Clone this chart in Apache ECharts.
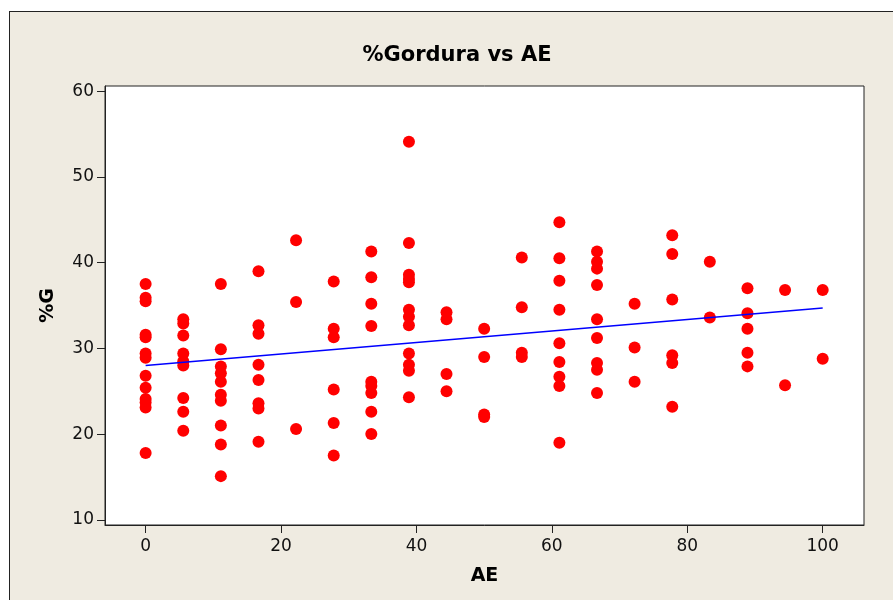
<!DOCTYPE html>
<html>
<head>
<meta charset="utf-8">
<title>%Gordura vs AE</title>
<script src="https://cdn.jsdelivr.net/npm/echarts@6/dist/echarts.min.js"></script>
<style>
  html, body { margin: 0; padding: 0; background: #fff; }
  #wrap { position: relative; width: 893px; height: 600px; overflow: hidden; }
  #panel {
    position: absolute; left: 9px; top: 11px; right: 0; bottom: 0;
    background: #efebe1; border-top: 1px solid #222; border-left: 1px solid #222;
  }
  #chart { position: absolute; left: 0; top: 0; width: 893px; height: 600px; }
</style>
</head>
<body>
<div id="wrap">
  <div id="panel"></div>
  <div id="chart"></div>
</div>
<script>
// niveles de AE (eje x)
const aeLevels = [0, 5.56, 11.11, 16.67, 22.22, 27.78, 33.33, 38.89, 44.44, 50,
  55.56, 61.11, 66.67, 72.22, 77.78, 83.33, 88.89, 94.44, 100];

// %G observado en cada nivel de AE
const gorduraPorNivel = [
  [37.5, 35.9, 35.5, 31.6, 31.3, 29.4, 28.9, 26.8, 25.4, 24.1, 23.7, 23.1, 17.8],
  [33.4, 32.9, 31.5, 29.4, 28.5, 28.0, 24.2, 22.6, 20.4],
  [37.5, 29.9, 27.9, 27.1, 26.1, 24.6, 23.9, 21.0, 18.8, 15.1],
  [39.0, 32.7, 31.7, 28.1, 26.3, 23.6, 23.0, 19.1],
  [42.6, 35.4, 20.6],
  [37.8, 32.3, 31.3, 25.2, 21.3, 17.5],
  [41.3, 38.3, 35.2, 32.6, 26.1, 25.6, 24.8, 22.6, 20.0],
  [54.1, 42.3, 38.6, 38.1, 37.7, 34.5, 33.7, 32.7, 29.4, 28.1, 27.4, 24.3],
  [34.2, 33.4, 27.0, 25.0],
  [32.3, 29.0, 22.3, 22.0],
  [40.6, 34.8, 29.5, 29.0],
  [44.7, 40.5, 37.9, 34.5, 30.6, 28.4, 26.7, 25.6, 19.0],
  [41.3, 40.1, 39.3, 37.4, 33.4, 31.2, 28.3, 27.5, 24.8],
  [35.2, 30.1, 26.1],
  [43.2, 41.0, 35.7, 29.2, 28.3, 23.2],
  [40.1, 33.6],
  [37.0, 34.1, 32.3, 29.5, 27.9],
  [36.8, 25.7],
  [36.8, 28.8],
];

// recta de regresión (extremos)
const fitAE = [0, 100];
const fitG = [28.0, 34.7];

const xTicks = [0, 20, 40, 60, 80, 100];
const yTicks = [10, 20, 30, 40, 50, 60];

const points = [];
aeLevels.forEach((ae, i) => {
  gorduraPorNivel[i].forEach((g) => points.push([ae, g]));
});

const chart = echarts.init(document.getElementById("chart"), null, { renderer: "canvas" });

const axisFont = { fontFamily: "DejaVu Sans", fontSize: 17, color: "#111" };

chart.setOption({
  backgroundColor: "transparent",
  animation: false,
  title: {
    text: "%Gordura vs AE",
    left: 457,
    top: 45,
    padding: 0,
    textAlign: "center",
    textStyle: { fontFamily: "DejaVu Sans", fontWeight: "bold", fontSize: 21, color: "#000" },
  },
  grid: {
    left: 105, top: 86, width: 759, height: 439,
    show: true, backgroundColor: "#fff", borderColor: "#222", borderWidth: 1,
  },
  xAxis: {
    type: "value",
    min: -6,
    max: 106.1,
    name: "AE",
    nameLocation: "middle",
    nameGap: 42,
    nameTextStyle: { fontFamily: "DejaVu Sans", fontWeight: "bold", fontSize: 19, color: "#000" },
    axisLine: { show: true, onZero: false, lineStyle: { color: "#222" } },
    axisTick: { show: true, length: 8, customValues: xTicks, lineStyle: { color: "#222" } },
    axisLabel: { ...axisFont, margin: 13, customValues: xTicks },
    splitLine: { show: false },
  },
  yAxis: {
    type: "value",
    min: 9.4,
    max: 60.6,
    name: "%G",
    nameLocation: "middle",
    nameRotate: 90,
    nameGap: 47,
    nameTextStyle: { fontFamily: "DejaVu Sans", fontWeight: "bold", fontSize: 19, color: "#000" },
    axisLine: { show: true, onZero: false, lineStyle: { color: "#222" } },
    axisTick: { show: true, length: 8, customValues: yTicks, lineStyle: { color: "#222" } },
    axisLabel: { ...axisFont, margin: 11, customValues: yTicks },
    splitLine: { show: false },
  },
  series: [
    {
      type: "scatter",
      data: points,
      symbol: "circle",
      symbolSize: 12,
      itemStyle: { color: "#ff0000", opacity: 1 },
    },
    {
      type: "line",
      data: fitAE.map((x, i) => [x, fitG[i]]),
      symbol: "none",
      lineStyle: { color: "#0000ff", width: 1.5 },
      z: 3,
    },
  ],
});
</script>
</body>
</html>
